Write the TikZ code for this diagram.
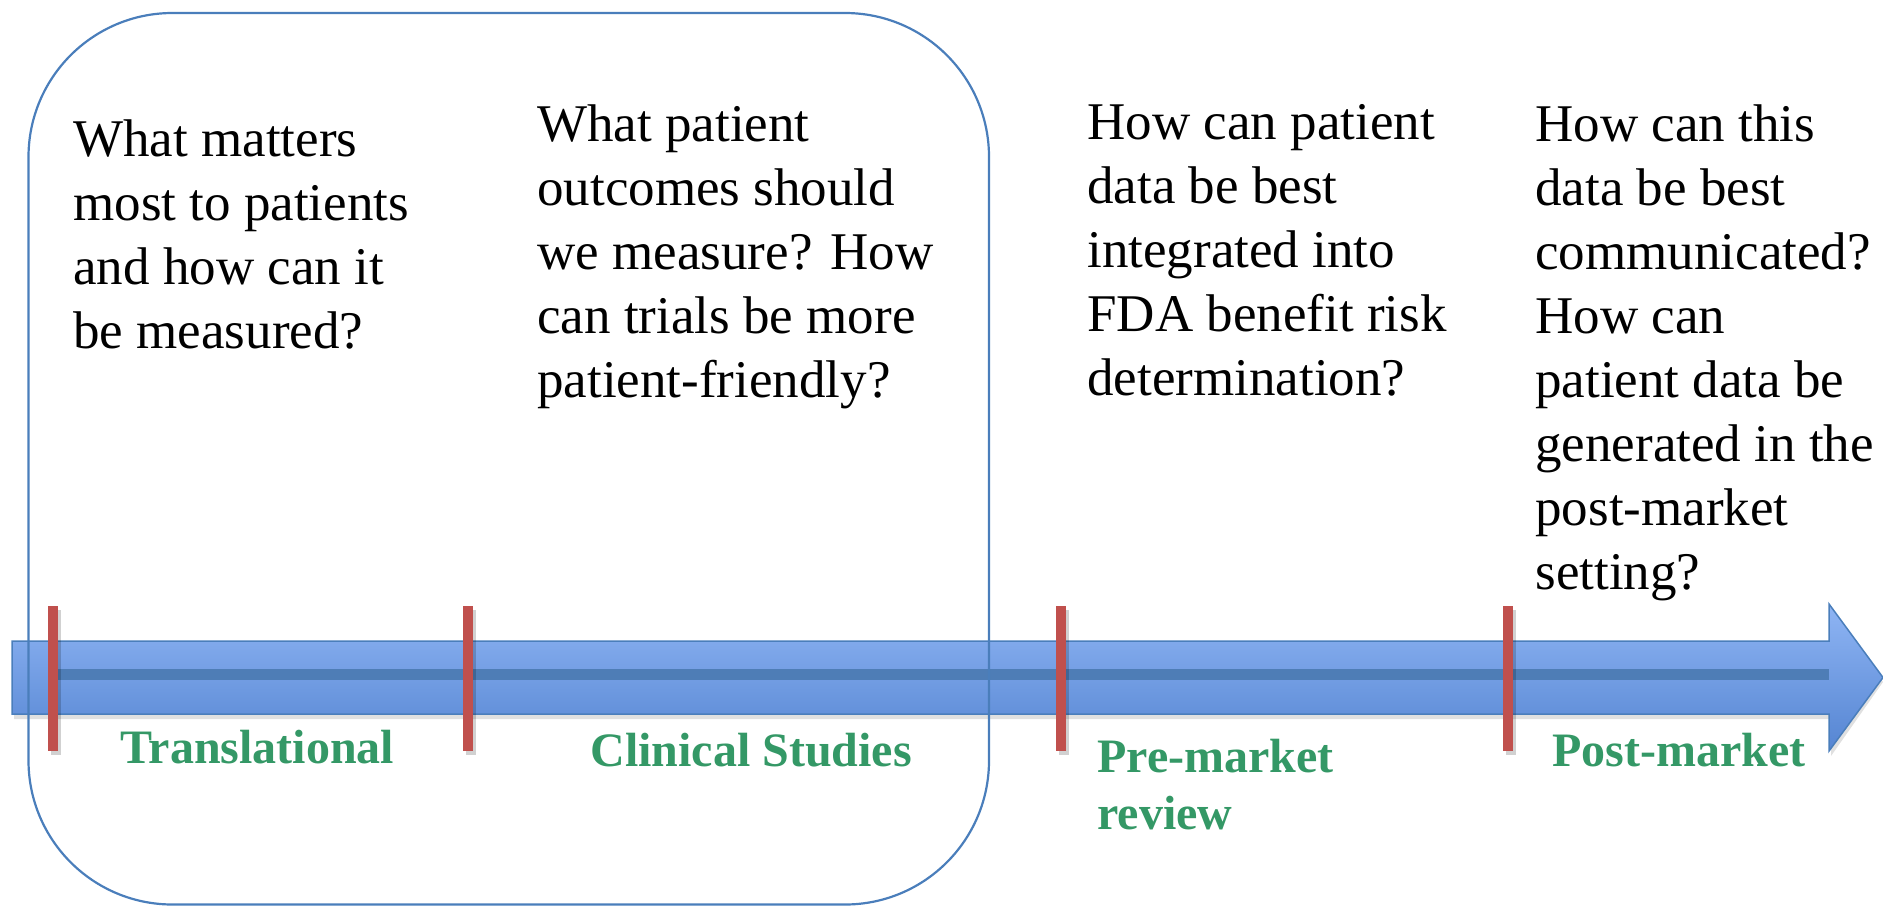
\documentclass[tikz,border=0pt]{standalone}
\usepackage{fontspec}
\setmainfont{Liberation Serif}
\definecolor{boxblue}{HTML}{4A7EBB}
\definecolor{tickred}{HTML}{C0504D}
\definecolor{labgreen}{RGB}{52,152,102}
\definecolor{arrtop}{HTML}{8FB5F4}
\definecolor{arrbot}{HTML}{5585D2}
\definecolor{stripecol}{HTML}{4E7DB6}
\begin{document}
\begin{tikzpicture}[x=0.5pt,y=-0.5pt,
  question/.style={anchor=north west, inner sep=0pt, align=left,
    font=\fontsize{26.5}{32}\selectfont},
  phase/.style={anchor=north west, inner sep=0pt, align=left, text=labgreen,
    font=\fontsize{24}{28.5}\selectfont\bfseries},
  phasetick/.style={tickred, line width=5pt},
  tickshadow/.style={black, opacity=0.18, line width=5pt},
  framebox/.style={boxblue, line width=1.1pt, rounded corners=72pt}]
\useasboundingbox (0,0) rectangle (1883,906);
% arrow shadow
\fill[black, opacity=0.12] (14,646) -- (1831,646) -- (1831,609) -- (1883,682) -- (1831,756) -- (1831,719) -- (14,719) -- cycle;
% arrow
\shadedraw[top color=arrtop, bottom color=arrbot, draw=boxblue, line width=0.75pt]
  (12,641) -- (1829,641) -- (1829,604) -- (1883,677.5) -- (1829,751) -- (1829,714) -- (12,714) -- cycle;
\fill[stripecol] (50,669) rectangle (1829,680);
% ticks
\foreach \x in {53,468,1061,1508} {
  \draw[tickshadow] (\x+3,610) -- (\x+3,755);
  \draw[phasetick] (\x,606) -- (\x,751);
}
% frame
\draw[framebox] (28.5,13) rectangle (989,904.5);
% questions
\node[question] (q1) at (73,119) {What matters\\most to patients\\and how can it\\be measured?};
\node[question] (q2) at (537,104) {What patient\\outcomes should\\we measure? How\\can trials be more\\patient-friendly?};
\node[question] (q3) at (1087,104) {How can patient\\data be best\\integrated into\\FDA benefit risk\\determination?};
\node[question] (q4) at (1535,104) {How can this\\data be best\\communicated?\\How can\\patient data be\\generated in the\\post-market\\setting?};
% phases
\node[phase] (p1) at (120,730) {Translational};
\node[phase] (p2) at (590,733) {Clinical Studies};
\node[phase] (p3) at (1097,739) {Pre-market\\review};
\node[phase] (p4) at (1552,733) {Post-market};
\end{tikzpicture}
\end{document}
